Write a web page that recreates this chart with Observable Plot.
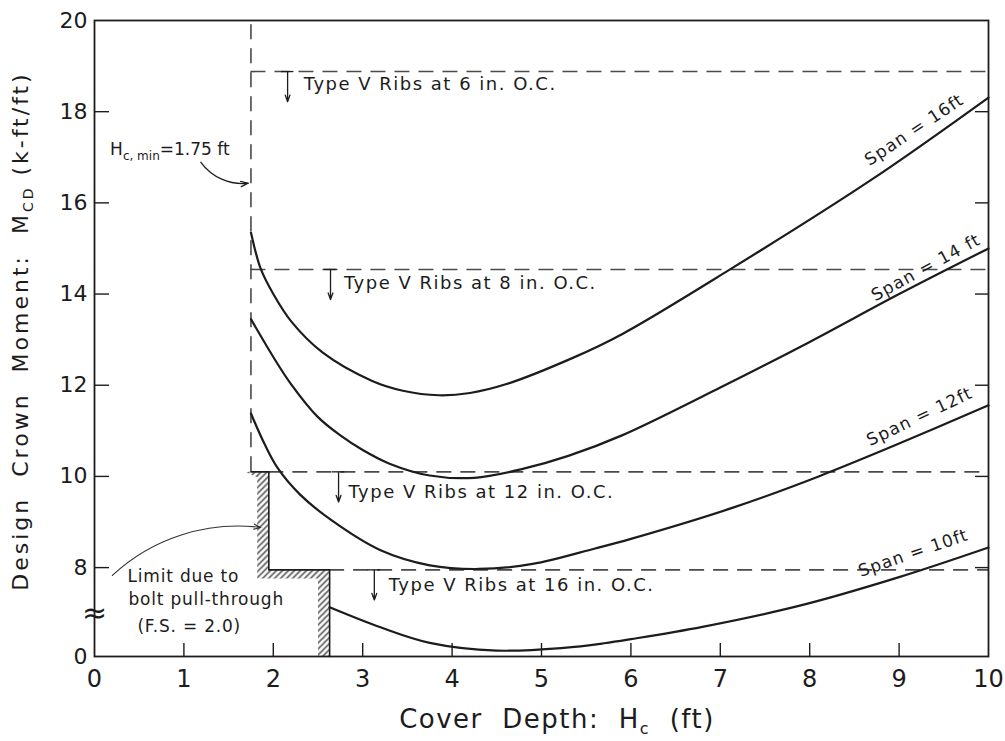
<!DOCTYPE html>
<html><head><meta charset="utf-8">
<script src="https://cdn.jsdelivr.net/npm/d3@7"></script>
<script src="https://cdn.jsdelivr.net/npm/@observablehq/plot@0.6"></script>
<style>
body{margin:0;background:#fff;}
#chart{width:1005px;height:741px;}
</style></head><body><div id="chart"></div>
<script>
// ---- axes ----
const xTicks = [0,1,2,3,4,5,6,7,8,9,10];
const yBreakBottom = 6.05;               // axis is broken: bottom edge is labelled "0"
const yTickValues = [6.05,8,10,12,14,16,18,20];
const yTickLabels = ["0","8","10","12","14","16","18","20"];

// ---- design crown moment curves (k-ft/ft) vs cover depth (ft) ----
const spanNames = ["Span = 10ft","Span = 12ft","Span = 14 ft","Span = 16ft"];
const span10X = [2.63,3.2,3.75,4.5,5.25,5.7,6.0,6.8,7.9,9.0,10];
const span10Y = [7.13,6.69,6.35,6.18,6.24,6.34,6.43,6.7,7.17,7.79,8.44];
const span12X = [1.75,1.9,2.05,2.3,2.65,3.2,3.75,4.3,4.9,5.6,6.0,7.15,8.1,9.0,10];
const span12Y = [11.38,10.72,10.18,9.6,9.04,8.38,8.05,7.97,8.08,8.42,8.63,9.32,10.0,10.72,11.56];
const span14X = [1.75,2.0,2.2,2.5,2.75,3.0,3.3,3.75,4.25,4.8,5.3,5.9,7.0,8.0,9.0,10];
const span14Y = [13.45,12.62,12.02,11.3,10.9,10.58,10.28,10.02,9.97,10.17,10.45,10.9,11.95,12.95,14.0,15.0];
const span16X = [1.75,1.86,2.0,2.2,2.55,3.1,3.45,3.85,4.2,4.6,5.35,5.9,7.1,8.7,10];
const span16Y = [15.35,14.55,14.0,13.4,12.72,12.1,11.88,11.78,11.83,12.02,12.6,13.12,14.53,16.52,18.31];

// ---- rib spacing limits ----
const ribSpacing = ["6","8","12","16"];
const ribLimitY = [18.88,14.54,10.1,7.95];
const ribLimitStartX = [1.75,1.75,1.95,2.63];

// ---- minimum cover and bolt pull-through limit ----
const hcMin = 1.75;
const pullLimitX = [1.75,1.95,1.95,2.63,2.63];
const pullLimitY = [10.1,10.1,7.95,7.95,6.05];

// ---- annotation anchors (data units) ----
const spanLabelX = [9.16,9.23,9.3,9.17];
const spanLabelY = [8.32,11.31,14.58,17.6];
const spanLabelAngle = [-19,-25.5,-28.6,-33.7];
const ribArrowX = [2.16,2.64,2.73,3.13];
const ribTextX = [2.34,2.79,2.84,3.29];
const ribTextY = [18.47,14.12,9.52,7.48];
const limitText = ["Limit due to","bolt pull-through","(F.S. = 2.0)"];
const limitTextX = [0.37,0.38,0.48];
const limitTextY = [7.68,7.17,6.58];

// ---- build tables ----
const curveX = [span10X, span12X, span14X, span16X];
const curveY = [span10Y, span12Y, span14Y, span16Y];
const curves = spanNames.flatMap((s, i) => curveX[i].map((x, j) => ({span: s, x, y: curveY[i][j]})));
const ribs = ribSpacing.map((s, i) => ({
  label: `Type Ⅴ Ribs at ${s} in. O.C.`, y: ribLimitY[i], x1: ribLimitStartX[i],
  ax: ribArrowX[i], tx: ribTextX[i], ty: ribTextY[i]
}));
const limitPts = pullLimitX.map((x, i) => ({x, y: pullLimitY[i]}));
// hatched band on the outside of the pull-through step
const hw = 0.13, hh = 0.19;
const hatchPoly = [
  {x: pullLimitX[0] - 0.07, y: pullLimitY[0]},
  ...limitPts,
  {x: pullLimitX[4] - hw, y: pullLimitY[4]},
  {x: pullLimitX[3] - hw, y: pullLimitY[3] - hh},
  {x: pullLimitX[1] - hw, y: pullLimitY[2] - hh},
  {x: pullLimitX[1] - hw, y: pullLimitY[0] - 0.12},
  {x: pullLimitX[0] - 0.07, y: pullLimitY[0]}
];
const spanLabels = spanNames.map((s, i) => ({text: s, x: spanLabelX[i], y: spanLabelY[i], a: spanLabelAngle[i]}));
const limitLabels = limitText.map((t, i) => ({text: t, x: limitTextX[i], y: limitTextY[i]}));

const W = 1005, H = 741, mL = 94, mR = 17, mT = 20, mB = 85;
const fw = W - mL - mR, fh = H - mT - mB;
const ink = "#1c1c1c";

const plot = Plot.plot({
  width: W, height: H,
  marginLeft: mL, marginRight: mR, marginTop: mT, marginBottom: mB,
  style: {fontFamily: "'DejaVu Sans', sans-serif", fontSize: "17px", background: "#fff", color: ink},
  x: {domain: [0, 10]},
  y: {domain: [yBreakBottom, 20]},
  marks: [
    Plot.line(hatchPoly, {x: "x", y: "y", fill: "url(#hatch)", stroke: "none"}),
    Plot.ruleY(ribs, {y: "y", x1: "x1", x2: 10, stroke: "#4a4a4a", strokeWidth: 1.6, strokeDasharray: "15,9"}),
    Plot.ruleX([hcMin], {x: d => d, y1: pullLimitY[0], y2: 20, stroke: "#4a4a4a", strokeWidth: 1.6, strokeDasharray: "15,9"}),
    Plot.line(limitPts, {x: "x", y: "y", stroke: ink, strokeWidth: 1.6}),
    Plot.line(curves, {x: "x", y: "y", z: "span", curve: "catmull-rom", stroke: ink, strokeWidth: 2.2}),
    Plot.frame({stroke: ink, strokeWidth: 1.8}),
    Plot.tickX(xTicks.slice(1, -1), {x: d => d, insetTop: fh - 13, stroke: ink, strokeWidth: 1.4}),
    Plot.tickY(yTickValues.slice(1, -1), {y: d => d, insetRight: fw - 15, stroke: ink, strokeWidth: 1.4}),
    Plot.tickY(yTickValues.slice(1, -1), {y: d => d, insetLeft: fw - 13, stroke: ink, strokeWidth: 1.4}),
    Plot.axisX({ticks: xTicks, tickSize: 0, tickPadding: 13, fontSize: 24, label: null, tickFormat: d => String(d)}),
    Plot.axisY({ticks: yTickValues, tickSize: 0, tickPadding: 7, fontSize: 22, label: null,
      tickFormat: d => yTickLabels[yTickValues.indexOf(d)]}),
    Plot.text([yBreakBottom + 0.95], {x: 0, y: d => d, text: () => "≈", fontSize: 30, fill: ink}),
    // rib-spacing arrows and labels
    Plot.ruleY(ribs, {y: "y", x1: d => d.ax - 0.07, x2: d => d.ax + 0.07, stroke: ink, strokeWidth: 1.3}),
    Plot.arrow(ribs, {x1: "ax", x2: "ax", y1: "y", y2: d => d.y - 0.66, stroke: ink, strokeWidth: 1.3, headLength: 8, headAngle: 40}),
    Plot.text(ribs, {x: "tx", y: "ty", text: "label", textAnchor: "start", lineAnchor: "bottom", fontSize: 18, fill: ink}),
    // span labels
    Plot.text(spanLabels, {x: "x", y: "y", text: "text", rotate: "a", fontSize: 17, fill: ink}),
    // bolt pull-through annotation
    Plot.text(limitLabels, {x: "x", y: "y", text: "text", textAnchor: "start", lineAnchor: "bottom", fontSize: 17, fill: ink}),
    Plot.arrow([{x1: 0.2, y1: 7.83, x2: 1.86, y2: 8.88}], {x1: "x1", y1: "y1", x2: "x2", y2: "y2", bend: 25, stroke: "#333", strokeWidth: 1.2, headLength: 9, headAngle: 40}),
    // minimum cover annotation arrow
    Plot.arrow([{x1: 1.19, y1: 16.89, x2: 1.72, y2: 16.43}], {x1: "x1", y1: "y1", x2: "x2", y2: "y2", bend: -30, stroke: ink, strokeWidth: 1.3, headLength: 9, headAngle: 40})
  ]
});

const svg = d3.select(plot);
// letter spacing of annotation texts (lettered drawing)
const spacing = new Map([
  ...ribs.map(r => [r.label, "1.5px"]),
  ...spanLabels.map(s => [s.text, "1.2px"]),
  ...limitLabels.map(l => [l.text, "0.8px"])
]);
svg.selectAll('g[aria-label="text"] text').each(function() {
  const t = this.textContent;
  if (spacing.has(t)) d3.select(this).style("letter-spacing", spacing.get(t));
});

// hatch pattern
const pat = svg.insert("defs", ":first-child").append("pattern")
  .attr("id", "hatch").attr("patternUnits", "userSpaceOnUse").attr("width", 6).attr("height", 6);
pat.append("path").attr("d", "M-1,1 l2,-2 M0,6 l6,-6 M5,7 l2,-2")
  .attr("stroke", "#333").attr("stroke-width", 1.3);

// axis titles with subscripts
const xl = svg.append("text").attr("x", 557).attr("y", 728).attr("text-anchor", "middle")
  .attr("fill", ink).style("font-size", "26px").style("letter-spacing", "1.5px").style("white-space", "pre");
xl.append("tspan").text("Cover  Depth:  H");
xl.append("tspan").attr("dy", 6).style("font-size", "16px").text("c");
xl.append("tspan").attr("dy", -6).text("  (ft)");

const yl = svg.append("text").attr("transform", "translate(28,331) rotate(-90)").attr("text-anchor", "middle")
  .attr("fill", ink).style("font-size", "22px").style("letter-spacing", "3px").style("white-space", "pre");
yl.append("tspan").text("Design  Crown  Moment:  M");
yl.append("tspan").attr("dy", 5).style("font-size", "14px").text("CD");
yl.append("tspan").attr("dy", -5).text(" (k-ft/ft)");

// H_c,min annotation
const sx = plot.scale("x"), sy = plot.scale("y");
const hl = svg.append("text").attr("x", sx.apply(0.18)).attr("y", sy.apply(17.04)).attr("text-anchor", "start")
  .attr("fill", ink).style("font-size", "17px").style("white-space", "pre");
hl.append("tspan").text("H");
hl.append("tspan").attr("dy", 5).style("font-size", "12px").text("c, min");
hl.append("tspan").attr("dy", -5).text("=1.75 ft");

document.getElementById("chart").appendChild(plot);
</script></body></html>
